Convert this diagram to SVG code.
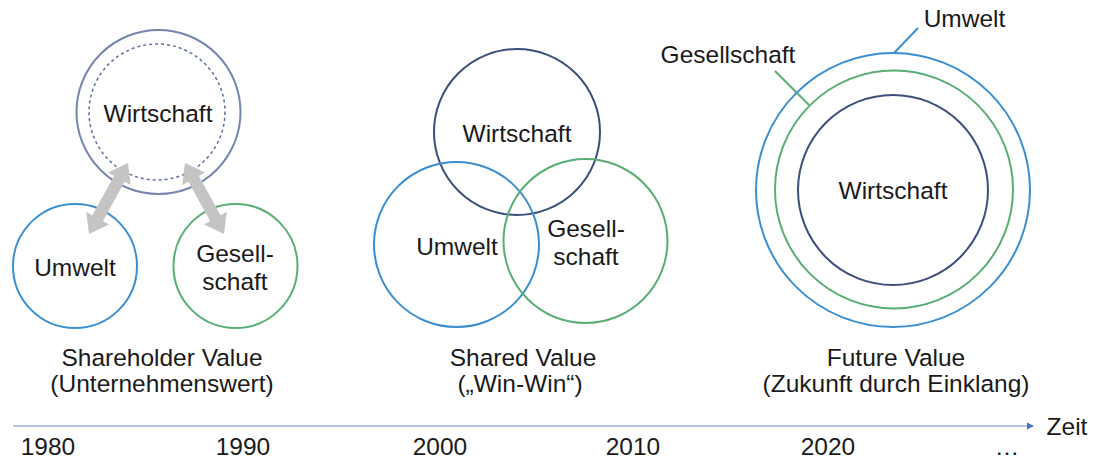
<svg xmlns="http://www.w3.org/2000/svg" width="1103" height="461" viewBox="0 0 1103 461">
<defs>
<style>
text{font-family:"Liberation Sans",Arial,sans-serif;font-size:24.5px;fill:#1a1a1a;text-anchor:middle}
.c{fill:none;stroke-width:2}
.w{stroke:#3d4f7c}
.u{stroke:#3b8fd0}
.g{stroke:#5aad74}
.arr{fill:#c4c4c4}
</style>
<marker id="ah" markerWidth="8" markerHeight="8" refX="6" refY="4" orient="auto" markerUnits="userSpaceOnUse">
<path d="M0,0.5 L7,4 L0,7.5 Z" fill="#4472c4"/>
</marker>
</defs>
<rect width="1103" height="461" fill="#fff"/>

<g id="shareholder">
<g id="sh-wirtschaft">
<circle cx="158.5" cy="112" r="82" class="c" stroke="#7585b0" stroke-width="1.5"/>
<circle cx="157" cy="112" r="68" fill="none" stroke="#5a6fa0" stroke-width="1.5" stroke-dasharray="3,3"/>
<text x="158" y="122">Wirtschaft</text>
</g>
<g id="sh-umwelt">
<circle cx="75" cy="266" r="62" class="c u"/>
<text x="75" y="276">Umwelt</text>
</g>
<g id="sh-gesellschaft">
<circle cx="235.5" cy="266" r="62" class="c g"/>
<text x="235" y="262">Gesell-</text>
<text x="235" y="290">schaft</text>
</g>
<g id="sh-label">
<text x="162" y="366">Shareholder Value</text>
<text x="162" y="392">(Unternehmenswert)</text>
</g>
</g>

<g id="connectors">
<polygon class="arr" transform="translate(128,163) rotate(118.8)" points="0,0 18,-13 18,-6 63,-6 63,-13 81,0 63,13 63,6 18,6 18,13"/>
<polygon class="arr" transform="translate(185,163) rotate(61.2)" points="0,0 18,-13 18,-6 63,-6 63,-13 81,0 63,13 63,6 18,6 18,13"/>
<line x1="894" y1="53" x2="918" y2="28" stroke="#3b8fd0" stroke-width="2"/>
<line x1="775" y1="71" x2="809" y2="105" stroke="#5aad74" stroke-width="2"/>
<line id="timeline" x1="13" y1="426" x2="1033" y2="426" stroke="#b4c4e6" stroke-width="2" marker-end="url(#ah)"/>
</g>

<g id="shared">
<g id="sv-wirtschaft">
<circle cx="517" cy="132" r="83" class="c w"/>
<text x="517" y="142">Wirtschaft</text>
</g>
<g id="sv-umwelt">
<circle cx="456.5" cy="244.5" r="82.5" class="c u"/>
<text x="457" y="255">Umwelt</text>
</g>
<g id="sv-gesellschaft">
<circle cx="585.5" cy="241" r="82" class="c g"/>
<text x="586" y="237">Gesell-</text>
<text x="586" y="265">schaft</text>
</g>
<g id="sv-label">
<text x="523" y="366">Shared Value</text>
<text x="520" y="392">(„Win-Win“)</text>
</g>
</g>

<g id="future">
<g id="fv-umwelt">
<circle cx="893" cy="190" r="137" class="c u"/>
<text x="964.5" y="27">Umwelt</text>
</g>
<g id="fv-gesellschaft">
<circle cx="894" cy="189.5" r="119" class="c g"/>
<text x="728" y="63">Gesellschaft</text>
</g>
<g id="fv-wirtschaft">
<circle cx="893" cy="190" r="95" class="c w"/>
<text x="893" y="199">Wirtschaft</text>
</g>
<g id="fv-label">
<text x="896" y="366">Future Value</text>
<text x="896" y="392">(Zukunft durch Einklang)</text>
</g>
</g>

<g id="axis">
<text x="1067" y="435">Zeit</text>
<text x="48" y="455">1980</text>
<text x="243" y="455">1990</text>
<text x="440" y="455">2000</text>
<text x="633" y="455">2010</text>
<text x="828" y="455">2020</text>
<text x="1007" y="455">…</text>
</g>
</svg>
